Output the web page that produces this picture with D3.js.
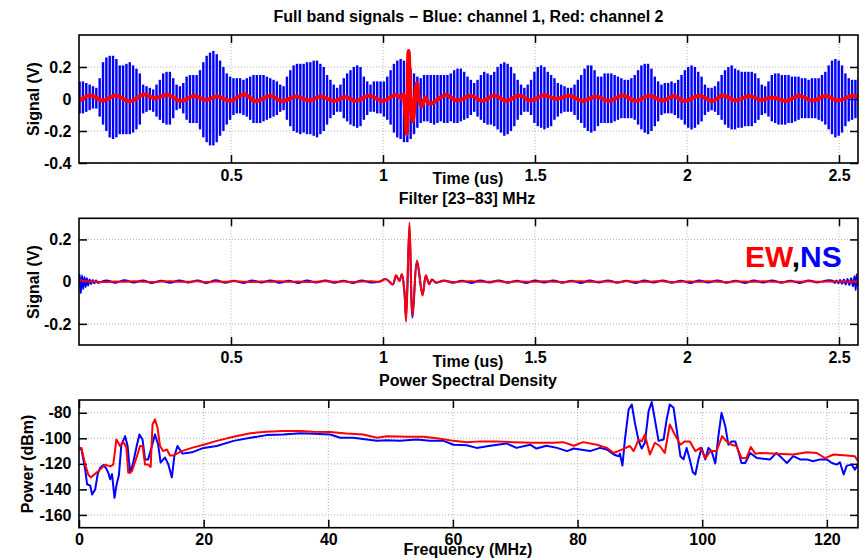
<!DOCTYPE html>
<html>
<head>
<meta charset="utf-8">
<script src="https://cdn.jsdelivr.net/npm/d3@7"></script>
<style>
body { margin: 0; background: #fff; }
svg text { font-family: "Liberation Sans", Arial, Helvetica, sans-serif; font-weight: bold; }
</style>
</head>
<body>
<div class="curr-graff"></div>
<script>
// ------------------------------------------------------------
// Data

// Full band, channel 1 (blue): top and bottom of each carrier cycle (V)
const cycleStep = 0.011; // us between two carrier cycles
const ch1Peak = [0.11,0.11,0.10,0.09,0.08,0.07,0.13,0.23,0.26,0.27,
    0.27,0.25,0.21,0.21,0.22,0.23,0.21,0.19,0.16,0.09,
    0.08,0.07,0.06,0.09,0.12,0.16,0.17,0.17,0.13,0.09,
    0.08,0.10,0.14,0.15,0.15,0.15,0.18,0.23,0.27,0.29,
    0.30,0.28,0.24,0.20,0.16,0.14,0.13,0.13,0.13,0.12,
    0.13,0.14,0.15,0.15,0.15,0.15,0.14,0.13,0.12,0.11,
    0.09,0.08,0.14,0.18,0.21,0.22,0.22,0.22,0.23,0.23,
    0.24,0.24,0.22,0.20,0.15,0.12,0.09,0.07,0.09,0.13,
    0.16,0.18,0.20,0.21,0.20,0.14,0.11,0.09,0.11,0.11,
    0.11,0.11,0.14,0.18,0.22,0.24,0.25,0.24,0.22,0.19,
    0.16,0.14,0.13,0.15,0.15,0.15,0.15,0.15,0.15,0.15,
    0.15,0.16,0.18,0.19,0.19,0.17,0.14,0.12,0.10,0.12,
    0.15,0.17,0.16,0.15,0.17,0.20,0.22,0.23,0.22,0.20,
    0.16,0.12,0.09,0.07,0.09,0.12,0.17,0.20,0.21,0.20,
    0.17,0.15,0.13,0.10,0.09,0.08,0.07,0.07,0.09,0.12,
    0.15,0.19,0.21,0.21,0.18,0.14,0.14,0.16,0.16,0.16,
    0.15,0.14,0.13,0.12,0.12,0.13,0.15,0.18,0.21,0.22,
    0.22,0.19,0.14,0.11,0.09,0.10,0.10,0.11,0.10,0.12,
    0.15,0.18,0.20,0.21,0.20,0.17,0.14,0.09,0.07,0.07,
    0.08,0.11,0.15,0.18,0.20,0.21,0.19,0.18,0.17,0.17,
    0.17,0.17,0.16,0.13,0.09,0.08,0.11,0.15,0.16,0.16,
    0.15,0.15,0.15,0.14,0.14,0.14,0.13,0.13,0.12,0.13,
    0.13,0.13,0.15,0.17,0.21,0.24,0.25,0.24,0.21,0.16,
    0.13,0.12,0.12,0.13];
const ch1Trough = [-0.09,-0.09,-0.08,-0.07,-0.06,-0.06,-0.11,-0.16,-0.20,-0.24,
    -0.25,-0.24,-0.22,-0.22,-0.22,-0.22,-0.21,-0.19,-0.16,-0.09,
    -0.08,-0.07,-0.08,-0.11,-0.13,-0.15,-0.16,-0.16,-0.12,-0.07,
    -0.06,-0.09,-0.13,-0.15,-0.15,-0.15,-0.19,-0.24,-0.27,-0.29,
    -0.29,-0.27,-0.23,-0.20,-0.16,-0.13,-0.10,-0.09,-0.09,-0.10,
    -0.11,-0.13,-0.15,-0.15,-0.15,-0.14,-0.13,-0.12,-0.11,-0.10,
    -0.08,-0.07,-0.13,-0.17,-0.20,-0.21,-0.22,-0.21,-0.22,-0.22,
    -0.23,-0.24,-0.22,-0.20,-0.16,-0.12,-0.10,-0.08,-0.08,-0.12,
    -0.14,-0.16,-0.17,-0.18,-0.17,-0.13,-0.10,-0.08,-0.08,-0.09,
    -0.09,-0.11,-0.13,-0.16,-0.21,-0.24,-0.25,-0.27,-0.27,-0.25,
    -0.22,-0.18,-0.15,-0.14,-0.14,-0.15,-0.16,-0.15,-0.14,-0.15,
    -0.15,-0.14,-0.15,-0.15,-0.14,-0.13,-0.12,-0.10,-0.08,-0.11,
    -0.13,-0.15,-0.16,-0.16,-0.17,-0.19,-0.21,-0.23,-0.22,-0.20,
    -0.17,-0.13,-0.10,-0.08,-0.08,-0.10,-0.15,-0.17,-0.18,-0.19,
    -0.18,-0.17,-0.13,-0.11,-0.09,-0.08,-0.08,-0.08,-0.10,-0.13,
    -0.15,-0.18,-0.20,-0.21,-0.20,-0.17,-0.15,-0.15,-0.15,-0.15,
    -0.14,-0.13,-0.12,-0.12,-0.12,-0.12,-0.13,-0.16,-0.19,-0.21,
    -0.22,-0.20,-0.17,-0.14,-0.10,-0.09,-0.09,-0.09,-0.10,-0.12,
    -0.13,-0.16,-0.18,-0.19,-0.18,-0.16,-0.14,-0.10,-0.08,-0.07,
    -0.08,-0.10,-0.13,-0.16,-0.18,-0.19,-0.19,-0.18,-0.18,-0.17,
    -0.17,-0.17,-0.15,-0.13,-0.10,-0.09,-0.11,-0.14,-0.15,-0.16,
    -0.16,-0.16,-0.15,-0.15,-0.14,-0.13,-0.12,-0.12,-0.12,-0.12,
    -0.12,-0.13,-0.14,-0.16,-0.19,-0.22,-0.24,-0.23,-0.21,-0.17,
    -0.14,-0.13,-0.12,-0.12];

// Full band, channel 2 (red)
const ch2Time = [0, 0.038, 0.079, 0.121, 0.167, 0.214, 0.250, 0.291, 0.334, 0.378,
    0.417, 0.455, 0.499, 0.543, 0.581, 0.630, 0.669, 0.713, 0.757, 0.795,
    0.839, 0.875, 0.911, 0.955, 0.999, 1.042, 1.058, 1.066, 1.072, 1.078,
    1.084, 1.091, 1.098, 1.111, 1.120, 1.128, 1.139, 1.152, 1.168, 1.185,
    1.207, 1.245, 1.289, 1.327, 1.366, 1.404, 1.448, 1.486, 1.530, 1.569,
    1.613, 1.656, 1.700, 1.744, 1.788, 1.832, 1.876, 1.920, 1.958, 1.991,
    2.040, 2.084, 2.117, 2.161, 2.205, 2.243, 2.282, 2.326, 2.369, 2.413,
    2.457, 2.496, 2.545, 2.560];
const ch2Full = [-0.012, 0.022, -0.010, 0.022, -0.015, 0.028, 0.005, 0.026, -0.012, 0.018,
    -0.006, 0.015, -0.012, 0.030, -0.014, 0.020, -0.014, 0.016, -0.009, 0.015,
    -0.012, 0.012, -0.012, 0.020, -0.012, 0.025, 0.008, 0.030, -0.050, -0.220,
    0.300, 0.000, -0.140, 0.100, -0.020, -0.045, 0.010, -0.030, -0.020, 0.005,
    0.025, -0.010, 0.020, -0.012, 0.022, -0.012, 0.022, -0.010, 0.024, 0.000,
    0.020, -0.012, 0.015, -0.012, 0.022, -0.012, 0.020, -0.010, 0.018, -0.014,
    0.020, -0.012, 0.022, -0.010, 0.018, -0.006, 0.010, -0.012, 0.020, -0.010,
    0.020, -0.010, 0.022, 0.010];

// Filtered [23-83] MHz signals
const filtTime = [0, 0.002, 0.006, 0.010, 0.014, 0.018, 0.022, 0.026, 0.030, 0.035,
    0.040, 0.045, 0.050, 0.056, 0.062,
    0.09, 0.12, 0.15, 0.18, 0.21, 0.24, 0.27, 0.30, 0.33, 0.36,
    0.39, 0.42, 0.45, 0.48, 0.51, 0.54, 0.57, 0.60, 0.63, 0.66,
    0.69, 0.72, 0.75, 0.78, 0.81, 0.84, 0.87, 0.90, 0.93, 0.96,
    0.988, 1.010, 1.032, 1.043, 1.054, 1.062, 1.070, 1.076, 1.087, 1.097,
    1.112, 1.130, 1.141, 1.152, 1.161, 1.174,
    1.20, 1.23, 1.26, 1.29, 1.32, 1.35, 1.38, 1.41, 1.44, 1.47,
    1.50, 1.53, 1.56, 1.59, 1.62, 1.65, 1.68, 1.71, 1.74, 1.77,
    1.80, 1.83, 1.86, 1.89, 1.92, 1.95, 1.98, 2.01, 2.04, 2.07,
    2.10, 2.13, 2.16, 2.19, 2.22, 2.25, 2.28, 2.31, 2.34, 2.37,
    2.40, 2.43, 2.46,
    2.480, 2.486, 2.492, 2.498, 2.504, 2.510, 2.516, 2.522, 2.528, 2.534,
    2.540, 2.546, 2.551, 2.555, 2.558, 2.560];
const filtEW = [0, 0.006, 0.008, 0.004, 0.002, 0.003, 0.001, 0.002, 0, 0.001,
    -0.001, 0.001, 0, 0.001, -0.001,
    -0.002, 0.001, -0.001, 0.002, 0, -0.002, 0.001, 0.002, -0.001, 0,
    0.002, -0.002, 0.001, -0.001, 0.002, 0, -0.002, 0.001, 0, 0.002,
    -0.001, 0.001, -0.002, 0, 0.002, -0.001, 0.001, -0.002, 0.001, 0.002,
    0.0, 0.012, -0.012, 0.030, 0.005, 0.036, -0.040, -0.190, 0.280, -0.160,
    0.100, -0.066, 0.030, -0.010, 0.010, -0.004,
    0.003, -0.002, 0.001, 0.002, -0.001, 0, 0.002, -0.002, 0.001, 0,
    -0.001, 0.002, 0, -0.002, 0.001, 0.002, -0.001, 0, 0.001, -0.002,
    0.002, 0, -0.001, 0.001, 0.002, -0.002, 0, 0.001, -0.001, 0.002,
    0, -0.002, 0.001, 0.001, -0.001, 0.002, 0, -0.002, 0.001, 0,
    0.002, -0.001, 0.001,
    0, 0.001, 0, -0.001, 0.001, -0.001, 0.002, -0.001, 0.001, -0.002,
    0.002, -0.002, 0.003, -0.003, 0.002, 0];
const filtNS = [0, 0.035, -0.055, 0.030, -0.035, 0.022, -0.025, 0.016, -0.018, 0.010,
    -0.012, 0.008, -0.008, 0.005, -0.005,
    0.006, -0.005, 0.007, -0.004, 0.005, -0.006, 0.004, -0.005, 0.006, -0.004,
    0.005, -0.006, 0.007, -0.005, 0.004, -0.006, 0.005, -0.004, 0.006, -0.005,
    0.004, -0.006, 0.005, -0.004, 0.006, -0.005, 0.004, -0.006, 0.005, -0.004,
    0.0, 0.012, -0.014, 0.028, 0.004, 0.034, -0.040, -0.175, 0.265, -0.170,
    0.095, -0.062, 0.028, -0.012, 0.010, -0.005,
    0.006, -0.005, 0.004, -0.006, 0.005, -0.004, 0.006, -0.005, 0.004, -0.006,
    0.005, -0.004, 0.006, -0.005, 0.004, -0.006, 0.005, -0.004, 0.006, -0.005,
    0.004, -0.006, 0.005, -0.004, 0.006, -0.005, 0.004, -0.006, 0.005, -0.004,
    0.006, -0.005, 0.004, -0.006, 0.005, -0.004, 0.006, -0.005, 0.004, -0.006,
    0.005, -0.004, 0.006,
    0.004, -0.006, 0.006, -0.008, 0.008, -0.010, 0.010, -0.013, 0.012, -0.016,
    0.016, -0.022, 0.025, -0.040, 0.035, -0.020];

// Power spectral density, channel 1 (blue)
const psd1Freq = [0, 0.4, 1.0, 1.3, 1.8, 2.1, 2.6, 3.0, 3.4, 3.9, 4.3, 4.7, 5.0, 5.3, 5.7, 6.0, 6.4, 6.8, 7.4, 7.8,
    8.2, 8.7, 9.3, 9.7, 10.2, 10.6, 11.1, 11.7, 12.2, 12.7, 13.1, 13.8, 14.3, 14.9, 15.3, 15.8, 16.2, 16.6, 17.3, 18.1,
    20, 22.1, 24.8, 27.5, 30.1, 32.8, 35.5, 37.6, 40.3, 41.9, 44, 46.2, 47.8, 49.4, 51.5, 54.2, 56.3, 58.5, 60.1, 62.2,
    63.8, 66, 68.6, 70.2, 72.4, 73.4, 75, 76.7, 78.3, 79.4, 80.4, 82, 83.6, 84.7, 85.8, 86.6, 86.8, 87.2, 87.6, 88.2,
    88.7, 89.2, 89.8, 90.3, 90.8, 91.4, 91.9, 92.4, 93, 93.8, 94.3, 94.8, 95.4, 95.9, 96.5, 97, 97.5, 98, 98.5, 98.9,
    99.4, 99.9, 100.5, 101, 101.5, 102.1, 102.6, 103.1, 103.7, 104.2, 104.7, 105.3, 105.8, 106.3, 106.9, 107.7, 108.8, 109.8, 110.9, 111.9,
    112.8, 113.6, 114.6, 115.7, 116.8, 117.8, 118.9, 120, 120.8, 121.6, 122.1, 122.7, 123.2, 124, 124.5, 125];
const psd1 = [-107.5, -108.8, -124.5, -136, -137, -144, -140, -128, -123, -121, -123, -127, -132, -128, -146.6, -137, -129, -105, -98.3, -106,
    -127, -119, -105, -97, -101, -116.5, -116.5, -106, -97, -105, -119, -115, -120, -130.6, -114, -106, -109, -112, -111.5, -111,
    -107.5, -106, -102, -99.6, -97.5, -97, -96, -96.5, -97, -99.6, -99.6, -101, -102, -101.5, -102, -101, -102, -102, -105, -105.5,
    -107.5, -105.8, -104, -107.5, -105, -108, -105.8, -107.5, -110, -108, -108.8, -110, -107.5, -108.8, -112.7, -114, -112, -121.4, -101, -77.4,
    -73.5, -87.9, -102, -108, -103.5, -78.7, -71.6, -85.2, -102, -101, -85.2, -73.5, -76, -93, -114, -116.5, -107.5, -116.5, -126.5, -128.3,
    -116.5, -107.5, -116.5, -107.5, -110, -119.8, -98.3, -80, -90.5, -105, -102.4, -102.4, -110, -119.3, -119.3, -111.5, -115.5, -116, -116.5, -111.5,
    -115.5, -119.3, -114, -116.5, -116.5, -118, -116.5, -116.5, -119.3, -120.6, -118.8, -128.3, -121.4, -120.6, -124.5, -120.6];

// Power spectral density, channel 2 (red)
const psd2Freq = [0, 0.4, 1.0, 1.5, 1.9, 2.6, 3.4, 4.2, 5.0, 5.5, 6.0, 6.6, 7.1, 7.6, 7.9, 8.5, 9.3, 9.8, 10.2, 10.6,
    11.1, 11.5, 11.8, 12.2, 12.6, 13.0, 13.5, 14.1, 14.6, 15.1, 15.7, 16.5, 18.1, 20, 22.1, 24.8, 27.5, 30.1, 32.8, 35.5,
    37.6, 40.3, 42.9, 45.6, 47.8, 49.4, 52.6, 55.3, 58, 60.1, 62.2, 64.4, 67, 69.7, 72.9, 76.1, 77.7, 79.4, 80.9, 83.1,
    84.7, 85.8, 87.1, 88.4, 89, 89.8, 90.3, 90.8, 91.6, 92.4, 93.2, 94, 94.8, 95.6, 96.5, 97.2, 98, 98.9, 99.7, 100.5,
    101.3, 102.3, 103.2, 103.9, 104.7, 105.5, 106.3, 107.1, 107.8, 108.5, 109.3, 112, 114.6, 116.8, 118.4, 119.7, 121.1, 123.2, 124.5, 125];
const psd2 = [-107.5, -107.5, -120.6, -128.5, -130.6, -127.7, -124.5, -120.6, -122, -120.6, -101, -106, -103, -107, -127, -125.8, -114, -106, -106, -120.6,
    -120.6, -122.4, -89, -85.2, -91.8, -106, -110, -108.8, -113.5, -113.5, -112, -110, -107.5, -105, -102, -98.8, -96, -94.8, -94.2, -94.2,
    -94.8, -95, -96.2, -97, -99.6, -98.3, -98.8, -98.8, -100.4, -102, -103, -102.4, -102.4, -103, -103.5, -103.5, -103, -105.8, -103, -105,
    -107.5, -111.5, -108.8, -106, -110, -101, -102.4, -97, -112.7, -103.5, -106, -111.5, -89.2, -97, -105, -102.4, -102.4, -110, -107.5, -115.5,
    -110, -110, -98.3, -102.4, -105, -106, -115.5, -115.5, -106.8, -112, -111.5, -112, -112.7, -111, -111.5, -115.5, -112.7, -113.5, -114, -118];

// Tick values
const timeTicks = [0.5, 1, 1.5, 2, 2.5];
const fullTicks = [-0.4, -0.2, 0, 0.2];
const filtTicks = [-0.2, 0, 0.2];
const freqTicks = [0, 20, 40, 60, 80, 100, 120];
const powerTicks = [-160, -140, -120, -100, -80];

// ------------------------------------------------------------
// Drawing

let width = 864;
let height = 558;
let plotLeft = 79;
let plotRight = 858;

let svg = d3.select(".curr-graff")
    .append("svg")
    .attr("width", width)
    .attr("height", height);

// Panels: top/bottom edge in pixels, padding of the x tick labels
let box1 = { top: 35, bottom: 163, id: "clip1", pad: 6.5 };
let box2 = { top: 218.3, bottom: 345, id: "clip2", pad: 6.5 };
let box3 = { top: 400, bottom: 527.7, id: "clip3", pad: 5.5 };

// tick labels with a plain hyphen as minus, like the original
let fmt = d3.formatLocale({ decimal: ".", thousands: ",", grouping: [3], currency: ["", ""], minus: "-" }).format("~g");

// Draws dotted grid, inward ticks on four sides and tick labels
function DrawFrame(box, xScale, yScale, xTicks, yTicks) {
    let g = svg.append("g");

    g.selectAll(".gx").data(xTicks).enter().append("line")
        .attr("x1", d => xScale(d)).attr("x2", d => xScale(d))
        .attr("y1", box.top).attr("y2", box.bottom)
        .attr("stroke", "#b0b0b0").attr("stroke-width", 1).attr("stroke-dasharray", "1,2");
    g.selectAll(".gy").data(yTicks).enter().append("line")
        .attr("x1", plotLeft).attr("x2", plotRight)
        .attr("y1", d => yScale(d)).attr("y2", d => yScale(d))
        .attr("stroke", "#b0b0b0").attr("stroke-width", 1).attr("stroke-dasharray", "1,2");

    g.append("g").attr("transform", `translate(0,${box.bottom})`)
        .call(d3.axisBottom(xScale).tickValues(xTicks).tickSizeInner(-8).tickSizeOuter(0).tickPadding(box.pad).tickFormat(fmt));
    g.append("g").attr("transform", `translate(0,${box.top})`)
        .call(d3.axisTop(xScale).tickValues(xTicks).tickSizeInner(-8).tickSizeOuter(0).tickFormat(""));
    g.append("g").attr("transform", `translate(${plotLeft},0)`)
        .call(d3.axisLeft(yScale).tickValues(yTicks).tickSizeInner(-8).tickSizeOuter(0).tickPadding(7.5).tickFormat(fmt));
    g.append("g").attr("transform", `translate(${plotRight},0)`)
        .call(d3.axisRight(yScale).tickValues(yTicks).tickSizeInner(-8).tickSizeOuter(0).tickFormat(""));

    g.selectAll(".domain").remove();
    g.selectAll(".tick line").attr("stroke", "#000").attr("stroke-width", 1.5);
    g.selectAll(".tick text").style("font-size", "16px").attr("fill", "#000");

    // clip for the curves
    svg.append("clipPath").attr("id", box.id)
        .append("rect")
        .attr("x", plotLeft).attr("y", box.top)
        .attr("width", plotRight - plotLeft).attr("height", box.bottom - box.top);
}

// Draws the black box round a panel
function DrawBox(box) {
    svg.append("rect")
        .attr("x", plotLeft).attr("y", box.top)
        .attr("width", plotRight - plotLeft).attr("height", box.bottom - box.top)
        .attr("fill", "none").attr("stroke", "#000").attr("stroke-width", 1.6);
}

// Draws a line through (x, y) pairs
function DrawCurve(box, xs, ys, xScale, yScale, color, lw, curve) {
    let pts = d3.zip(xs, ys);
    svg.append("path")
        .datum(pts)
        .attr("clip-path", `url(#${box.id})`)
        .attr("fill", "none")
        .attr("stroke", color)
        .attr("stroke-width", lw)
        .attr("stroke-linejoin", "round")
        .attr("d", d3.line()
            .x(d => xScale(d[0]))
            .y(d => yScale(d[1]))
            .curve(curve));
}

function AddText(x, y, str, size) {
    return svg.append("text")
        .attr("x", x).attr("y", y)
        .attr("text-anchor", "middle")
        .style("font-size", size + "px")
        .attr("fill", "#000")
        .text(str);
}

function AddYLabel(x, y, str) {
    svg.append("text")
        .attr("transform", `translate(${x},${y}) rotate(-90)`)
        .attr("text-anchor", "middle")
        .style("font-size", "16px")
        .attr("fill", "#000")
        .text(str);
}

// ---- Panel 1: full band signals
let xTime = d3.scaleLinear().domain([0, 2.5625]).range([plotLeft, plotRight]);
let yFull = d3.scaleLinear().domain([-0.4, 0.4]).range([box1.bottom, box1.top]);

DrawFrame(box1, xTime, yFull, timeTicks, fullTicks);

// one vertical stroke per carrier cycle, from trough to peak
svg.append("g")
    .attr("clip-path", `url(#${box1.id})`)
    .selectAll("line")
    .data(d3.zip(ch1Peak, ch1Trough))
    .enter().append("line")
    .attr("x1", (d, i) => xTime(i * cycleStep + 0.002))
    .attr("x2", (d, i) => xTime(i * cycleStep + 0.002))
    .attr("y1", d => yFull(d[1]))
    .attr("y2", d => yFull(d[0]))
    .attr("stroke", "#0000ff")
    .attr("stroke-width", 2.4);

DrawCurve(box1, ch2Time, ch2Full, xTime, yFull, "#ff0000", 4, d3.curveCatmullRom.alpha(0.5));
DrawBox(box1);

// ---- Panel 2: filtered signals
let yFilt = d3.scaleLinear().domain([-0.3, 0.3]).range([box2.bottom, box2.top]);

DrawFrame(box2, xTime, yFilt, timeTicks, filtTicks);
DrawCurve(box2, filtTime, filtNS, xTime, yFilt, "#0000ff", 2, d3.curveCatmullRom.alpha(0.5));
DrawCurve(box2, filtTime, filtEW, xTime, yFilt, "#ff0000", 2, d3.curveCatmullRom.alpha(0.5));
DrawBox(box2);

// EW,NS legend
let leg = svg.append("text")
    .attr("x", 745).attr("y", 266.5)
    .style("font-size", "30px");
leg.append("tspan").attr("fill", "#ff0000").text("EW");
leg.append("tspan").attr("fill", "#000").text(",");
leg.append("tspan").attr("fill", "#0000ff").text("NS");

// ---- Panel 3: power spectral density
let xFreq = d3.scaleLinear().domain([0, 125]).range([plotLeft, plotRight]);
let yPow = d3.scaleLinear().domain([-170, -70]).range([box3.bottom, box3.top]);

DrawFrame(box3, xFreq, yPow, freqTicks, powerTicks);
DrawCurve(box3, psd1Freq, psd1, xFreq, yPow, "#0000ff", 2, d3.curveLinear);
DrawCurve(box3, psd2Freq, psd2, xFreq, yPow, "#ff0000", 2, d3.curveLinear);
DrawBox(box3);

// ---- Titles and axis labels
AddText(468.5, 21.5, "Full band signals \u2212 Blue: channel 1, Red: channel 2", 16);
AddText(468, 184, "Time (us)", 16);
AddText(467, 204, "Filter [23\u221283] MHz", 16);
AddText(468, 367, "Time (us)", 16);
AddText(468, 386, "Power Spectral Density", 16);
AddText(468, 555, "Frequency (MHz)", 16);

AddYLabel(38.5, 99, "Signal (V)");
AddYLabel(38.5, 282, "Signal (V)");
AddYLabel(33, 464, "Power (dBm)");
</script>
</body>
</html>
